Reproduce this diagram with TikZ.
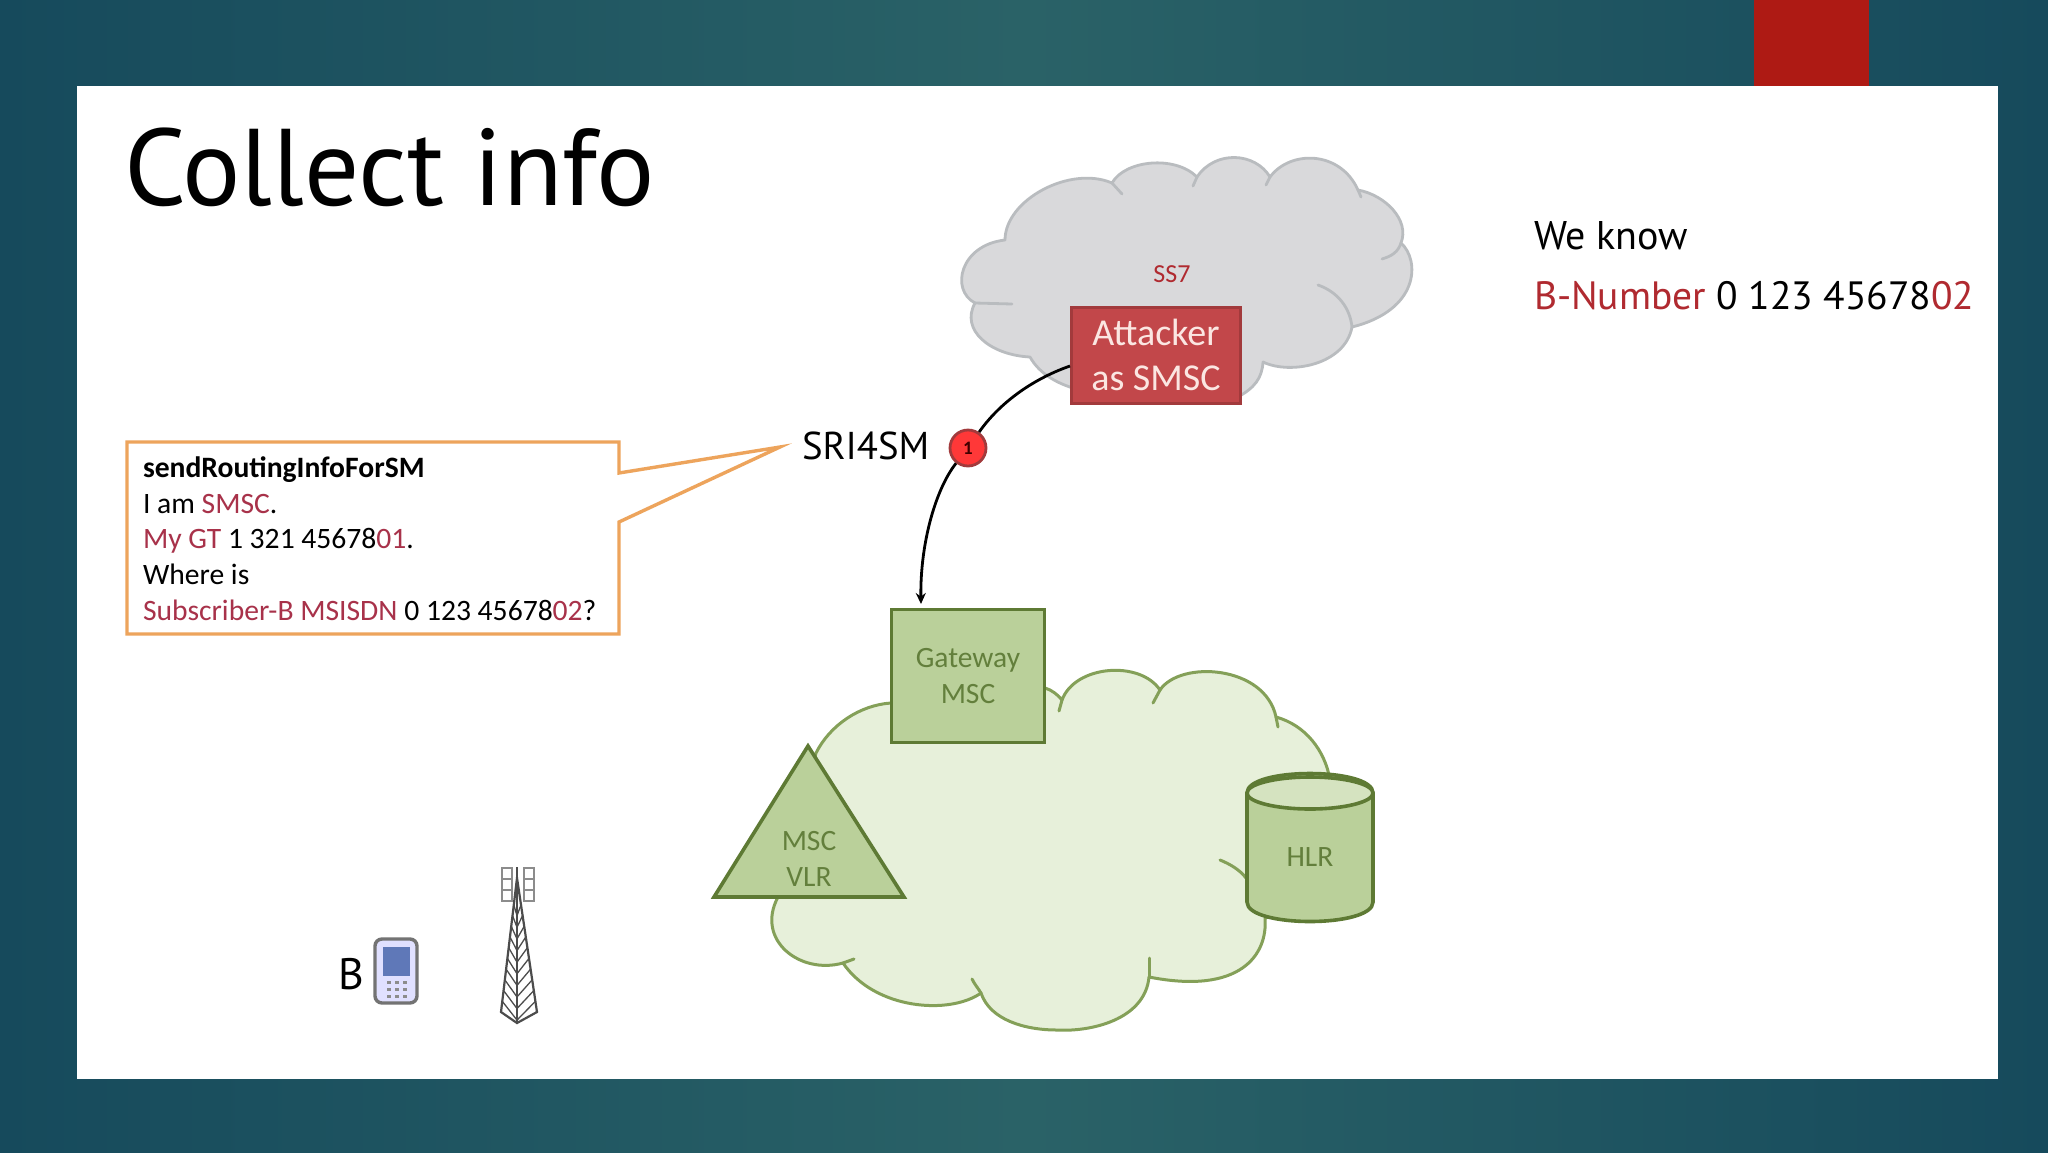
\documentclass[tikz,border=0pt]{standalone}
\usepackage{fontspec}
\setmainfont{Carlito}
\newfontfamily\headfont{PT Sans}
\usetikzlibrary{arrows.meta,calc}
\definecolor{panelRed}{HTML}{AE1A14}
\definecolor{txtRed}{HTML}{B02A30}
\definecolor{bubRed}{HTML}{A8324A}
\definecolor{cloudGray}{HTML}{D9D9DB}
\definecolor{cloudGrayLine}{HTML}{B9BCBF}
\definecolor{atkFill}{HTML}{C2474A}
\definecolor{atkLine}{HTML}{A23A3C}
\definecolor{atkTxt}{HTML}{FBE6E2}
\definecolor{cloudGreen}{HTML}{E7F0DA}
\definecolor{cloudGreenLine}{HTML}{84A058}
\definecolor{nodeGreen}{HTML}{BAD09A}
\definecolor{nodeGreenLine}{HTML}{5E7A34}
\definecolor{nodeGreenTxt}{HTML}{637F3C}
\definecolor{orangeLine}{HTML}{EDA45C}
\definecolor{bgEdge}{HTML}{164A5C}
\definecolor{bgMid}{HTML}{2A6267}
\definecolor{phoneScreen}{HTML}{5F78B8}
\newcommand{\fs}[1]{\fontsize{#1}{#1}\selectfont}
\tikzset{
  txt/.style={inner sep=0pt,outer sep=0pt,anchor=base west,text=black},
  headtxt/.style={txt,font=\headfont\fs{#1}},
  bubtxt/.style={txt,font=\fs{29.6}},
  greennode/.style={draw=nodeGreenLine,fill=nodeGreen,line width=3.6pt,text=nodeGreenTxt,font=\fs{29.5},align=center,inner sep=0pt,line join=miter},
  conn/.style={draw=black,line width=2.8pt},
  graycl/.style={fill=cloudGray,draw=cloudGrayLine,line width=2.8pt,line join=round},
  greencl/.style={fill=cloudGreen,draw=cloudGreenLine,line width=3pt,line join=round},
  graytail/.style={draw=cloudGrayLine,line width=2.8pt,line cap=round},
  greentail/.style={draw=cloudGreenLine,line width=3pt,line cap=round},
  badge/.style={circle,draw=atkLine,fill=red!78!white,line width=2.8pt,minimum size=36pt,inner sep=0pt,font=\bfseries\fs{19},text=black!75!red},
}
\begin{document}
\begin{tikzpicture}[x=1pt,y=-1pt]
\useasboundingbox (0,0) rectangle (2048,1152);
% background
\shade[left color=bgEdge,right color=bgEdge,middle color=bgMid] (0,0) rectangle (2048,1152);
\fill[panelRed] (1754,0) rectangle (1869,90);
\fill[white] (77,86) rectangle (1998,1079);
% title
\node[headtxt=109] (title) at (124,205) {Collect info};
% gray cloud
\draw[graycl] (1005,240)
  .. controls (1005,200) and (1070,165) .. (1112,183)
  .. controls (1125,160) and (1175,155) .. (1197,177)
  .. controls (1215,150) and (1255,152) .. (1270,177)
  .. controls (1290,150) and (1340,150) .. (1358,190)
  .. controls (1385,195) and (1410,220) .. (1401,243)
  .. controls (1420,260) and (1420,310) .. (1352,327)
  .. controls (1345,365) and (1290,375) .. (1263,362)
  .. controls (1262,378) and (1255,388) .. (1236,398)
  -- (1080,390)
  .. controls (1060,385) and (1040,375) .. (1030,357)
  .. controls (990,355) and (960,330) .. (975,303)
  .. controls (950,290) and (960,245) .. (1005,240) -- cycle;
\draw[graytail] (1112,183) -- (1122,194);
\draw[graytail] (1197,177) -- (1193,186);
\draw[graytail] (1270,177) -- (1266,185);
\draw[graytail] (1358,190) -- (1361,197);
\draw[graytail] (1401,243) .. controls (1398,252) and (1392,256) .. (1382,259);
\draw[graytail] (1318,285) .. controls (1338,292) and (1350,308) .. (1352,327);
\draw[graytail] (975,303) -- (1012,304);
% green cloud
\draw[greencl] (1045,688)
  .. controls (1052,690) and (1058,695) .. (1062,700)
  .. controls (1075,665) and (1140,660) .. (1160,690)
  .. controls (1180,660) and (1265,665) .. (1276,717)
  .. controls (1305,725) and (1325,750) .. (1330,780)
  -- (1330,900) -- (1265,918)
  .. controls (1268,955) and (1240,995) .. (1149,977)
  .. controls (1145,1020) and (1090,1032) .. (1057,1030)
  .. controls (1025,1030) and (990,1020) .. (981,993)
  .. controls (950,1015) and (875,1010) .. (843,963)
  .. controls (800,975) and (755,940) .. (778,897)
  -- (816,753)
  .. controls (830,725) and (860,705) .. (891,703)
  -- cycle;
\draw[greentail] (1062,700) -- (1059,711);
\draw[greentail] (1160,690) -- (1153,703);
\draw[greentail] (1276,717) -- (1278,727);
\draw[greentail] (1149,977) -- (1149,958);
\draw[greentail] (981,993) .. controls (978,988) and (975,985) .. (972,979);
\draw[greentail] (843,963) -- (854,959);
\draw[greentail] (1220,860) .. controls (1230,864) and (1240,870) .. (1246,878);
% triangle
\draw[greennode,line join=miter] (808,746) -- (904,897) -- (714,897) -- cycle;
\node[inner sep=0pt,align=center,text=nodeGreenTxt,font=\fs{29.5}] (vlr) at (809,859) {MSC\\[6pt]VLR};
% gateway
\node[greennode,minimum width=153pt,minimum height=133pt] (gw) at (968,676) {Gateway\\[6pt]MSC};
% HLR
\draw[line width=3.6pt,draw=nodeGreenLine,fill=nodeGreen] (1247,793) -- (1247,902)
  .. controls (1247,928) and (1373,928) .. (1373,902) -- (1373,793)
  .. controls (1373,767) and (1247,767) .. (1247,793) -- cycle;
\draw[line width=3.6pt,draw=nodeGreenLine,fill=cloudGreen!60!nodeGreen] (1310,793) ellipse [x radius=63pt,y radius=16pt];
\node[inner sep=0pt,text=nodeGreenTxt,font=\fs{29.5}] (hlr) at (1310,857) {HLR};
% attacker
\node[draw=atkLine,fill=atkFill,line width=3pt,minimum width=169pt,minimum height=96pt,inner sep=0pt,align=center,text=atkTxt,font=\fs{38}] (atk) at (1156,355) {Attacker\\[7pt]as SMSC};
\node[inner sep=0pt,text=txtRed,font=\fs{26}] (ss7) at (1172,274) {SS7};
% connectors
\coordinate (gwin) at (921,604);
\node[badge] (c1) at (968,448) {1};
\draw[conn] (atk.west |- 0,366) .. controls (1030,380) and (998,405) .. (c1);
\draw[conn,-{Stealth[length=11pt,width=10pt]}] (c1) .. controls (935,490) and (920,545) .. (gwin);
% bubble
\coordinate (tip) at (780,447);
\draw[draw=orangeLine,fill=white,line width=3.4pt,line join=miter] (127,442) -- (619,442) -- (619,473) -- (tip) -- (619,522) -- (619,634) -- (127,634) -- cycle;
\node[bubtxt,font=\bfseries\fs{29.6}] (b1) at (143,477) {sendRoutingInfoForSM};
\node[bubtxt] (b2) at (143,513) {I am \textcolor{bubRed}{SMSC}.};
\node[bubtxt] (b3) at (143,548) {\textcolor{bubRed}{My GT} 1 321 45678\textcolor{bubRed}{01}.};
\node[bubtxt] (b4) at (143,584) {Where is};
\node[bubtxt] (b5) at (143,620) {\textcolor{bubRed}{Subscriber-B MSISDN} 0 123 45678\textcolor{bubRed}{02}?};
\node[headtxt=38.8] (sri) at (802,459) {SRI4SM};
% right text
\node[headtxt=40] (know) at (1534,249) {We know};
\node[headtxt=39.5] (bnum) at (1534,309) {\textcolor{txtRed}{B-Number} 0 123 45678\textcolor{txtRed}{02}};
% B and phone
\node[headtxt=44] (bl) at (338,989) {B};
\draw[draw=black!55,fill=white!88!blue,line width=3.4pt,rounded corners=7pt] (375,939) rectangle (417,1003);
\fill[fill=phoneScreen] (383,947) rectangle (410,976);
\foreach \yy in {982,989,996}{\foreach \xx in {389,397,405}{\fill[black!45] (\xx-2,\yy-1.5) rectangle (\xx+2,\yy+1.5);}}
% tower
\begin{scope}[draw=black!70,line width=1.3pt]
\foreach \ax in {502,524}{
  \draw[draw=black!45,fill=white] (\ax,868) rectangle (\ax+10,901);
  \draw[draw=black!45] (\ax,879) -- (\ax+10,879) (\ax,890) -- (\ax+10,890);
}
\draw (517,867) -- (517,1023);
\draw[line width=2.2pt] (517,878) -- (501,1012) -- (517,1023) -- (537,1012) -- cycle;
\foreach \t in {0.2,0.28,...,0.96}{
  \draw ($(517,878)!\t!(501,1012)$) -- ($(517,878)!\t+0.06!(517,1023)$) -- ($(517,878)!\t!(537,1012)$);
}
\end{scope}
\end{tikzpicture}
\end{document}
